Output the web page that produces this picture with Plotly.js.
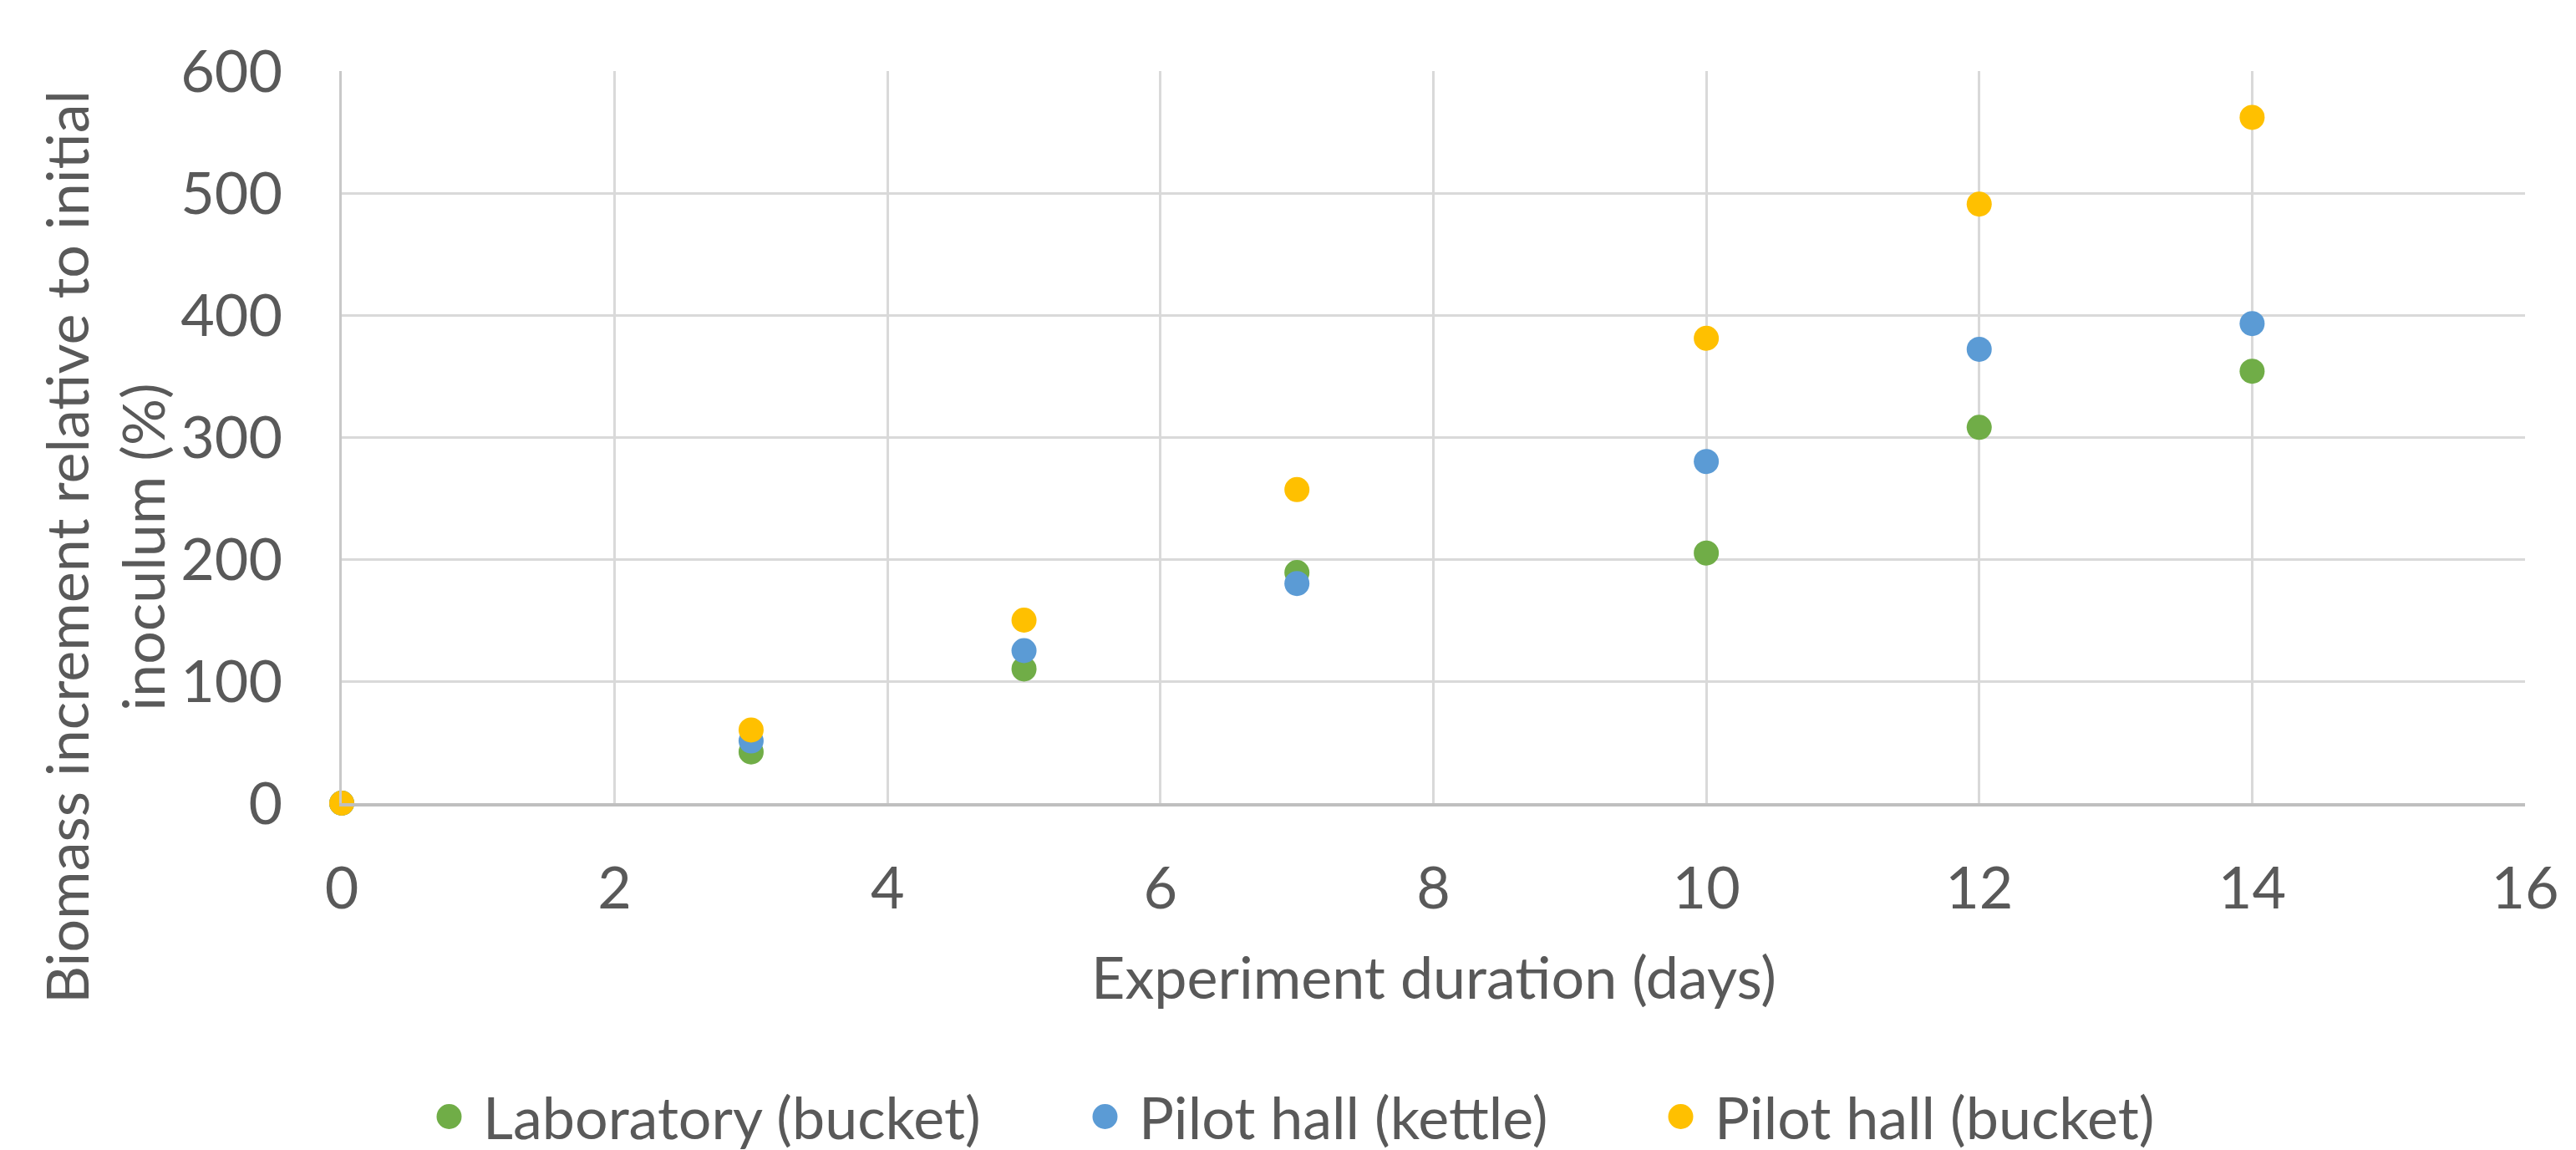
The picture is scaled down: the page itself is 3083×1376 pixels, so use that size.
<!DOCTYPE html>
<html>
<head>
<meta charset="utf-8">
<script src="https://cdn.plot.ly/plotly-3.0.1.min.js"></script>
<style>html,body{margin:0;padding:0;background:#fff;}#chart{width:3083px;height:1376px;}</style>
</head>
<body>
<div id="chart"></div>
<script>
const days = [0, 3, 5, 7, 10, 12, 14];
const labBucket = [0, 42, 110, 189, 205, 308, 354];
const pilotKettle = [0, 51, 125, 180, 280, 372, 393];
const pilotBucket = [0, 60, 150, 257, 381, 491, 562];
const seriesNames = ["Laboratory (bucket)", "Pilot hall (kettle)", "Pilot hall (bucket)"];
const xTitle = "Experiment duration (days)";
const yTitle = "Biomass increment relative to initial<br>inoculum (%)";

const FONT = "Lato, 'Open Sans', sans-serif";
const FS = 70;
const TXT = "#595959";
const colors = ["#70AD47", "#5B9BD5", "#FFC000"];
const ys = [labBucket, pilotKettle, pilotBucket];
const legendIds = ["legend", "legend2", "legend3"];
const legendX = [497, 1282, 1971];

const traces = ys.map((y, i) => ({
  type: "scatter",
  mode: "markers",
  x: days,
  y: y,
  name: seriesNames[i],
  legend: legendIds[i],
  marker: {color: colors[i], size: 30, line: {width: 0}},
  cliponaxis: false
}));

function legendCfg(px) {
  return {
    orientation: "h",
    xref: "container", yref: "container",
    x: px / 3083, xanchor: "left",
    y: (1376 - 1336) / 1376, yanchor: "middle",
    font: {family: FONT, size: FS, color: TXT},
    itemsizing: "trace",
    itemwidth: 71,
    bgcolor: "rgba(0,0,0,0)",
    borderwidth: 0
  };
}

const layout = {
  width: 3083,
  height: 1376,
  paper_bgcolor: "#ffffff",
  plot_bgcolor: "#ffffff",
  margin: {l: 409, r: 61, t: 85, b: 415, autoexpand: false},
  font: {family: FONT, size: FS, color: TXT},
  showlegend: true,
  legend: legendCfg(legendX[0]),
  legend2: legendCfg(legendX[1]),
  legend3: legendCfg(legendX[2]),
  xaxis: {
    range: [0, 16],
    dtick: 2,
    tick0: 0,
    showgrid: true,
    gridcolor: "#D9D9D9",
    gridwidth: 3,
    zeroline: false,
    showline: true,
    linecolor: "#BFBFBF",
    linewidth: 4,
    ticks: "",
    ticklabelstandoff: 38,
    tickfont: {family: FONT, size: FS, color: TXT},
    automargin: false,
    fixedrange: true
  },
  yaxis: {
    range: [0, 600],
    dtick: 100,
    tick0: 0,
    showgrid: true,
    gridcolor: "#D9D9D9",
    gridwidth: 3,
    zeroline: false,
    showline: true,
    linecolor: "#C8C8C8",
    linewidth: 3,
    ticks: "",
    ticklabelstandoff: 54,
    tickfont: {family: FONT, size: FS, color: TXT},
    automargin: false,
    fixedrange: true
  },
  annotations: [
    {
      text: xTitle,
      xref: "paper", yref: "paper",
      x: 0.5, y: -0.236,
      xanchor: "center", yanchor: "middle",
      showarrow: false,
      font: {family: FONT, size: FS, color: TXT}
    },
    {
      text: yTitle,
      xref: "paper", yref: "paper",
      x: -0.1087, y: 0.3505,
      xanchor: "center", yanchor: "middle",
      textangle: -90,
      showarrow: false,
      font: {family: FONT, size: FS, color: TXT}
    }
  ]
};

Plotly.newPlot("chart", traces, layout, {staticPlot: true, displayModeBar: false}).then(gd => {
  // enlarge legend symbols to match the plotted marker size (Plotly caps them at 16px)
  gd.querySelectorAll(".infolayer .legendpoints path.scatterpts").forEach(p => {
    const t = p.getAttribute("transform") || "";
    p.setAttribute("transform", t + " scale(1.875)");
  });
});
</script>
</body>
</html>
